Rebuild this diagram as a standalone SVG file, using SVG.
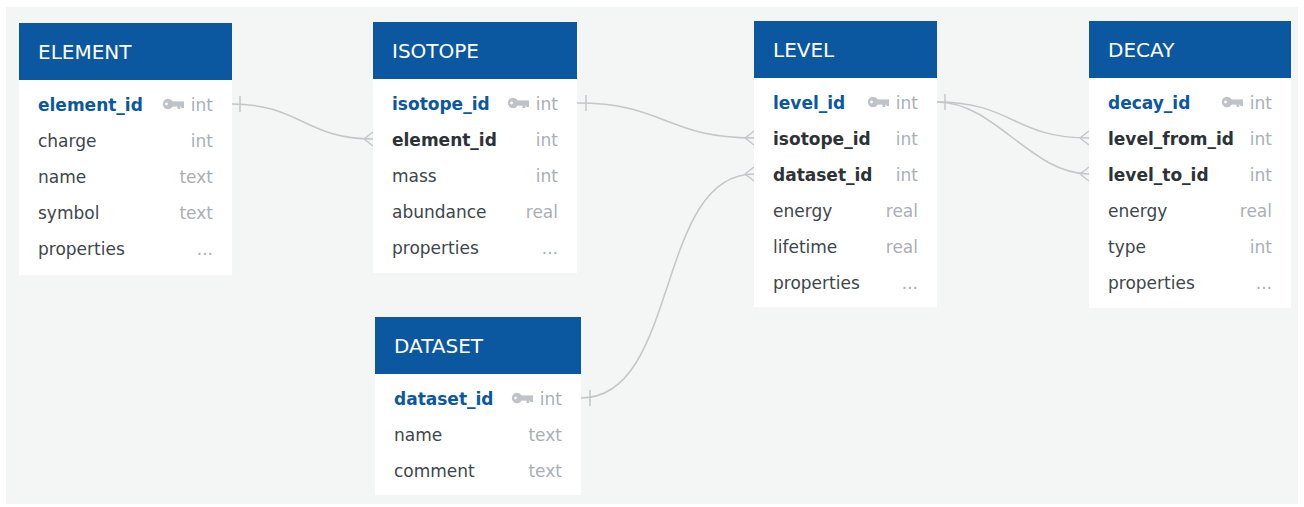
<svg xmlns="http://www.w3.org/2000/svg" xmlns:xlink="http://www.w3.org/1999/xlink" width="1304" height="507" viewBox="0 0 1304 507">
  <style>
    .canvas { fill: #f4f5f5; }
    .body { fill: #ffffff; }
    .head { fill: #0b57a0; }
    .title { font-family: "DejaVu Sans", sans-serif; font-size: 20px; fill: #ffffff; }
    .f { font-family: "DejaVu Sans", sans-serif; font-size: 17px; fill: #40454b; }
    .pk { font-weight: bold; fill: #0b57a0; }
    .fk { font-weight: bold; fill: #2d3237; }
    .t { font-family: "DejaVu Sans", sans-serif; font-size: 17px; fill: #abafb4; text-anchor: end; }
    .rel { fill: none; stroke: #c4c6c8; stroke-width: 1.5; }
    .key { fill: #bfc2c6; }
  </style>
  <defs>
    <!-- primary key glyph, drawn with its right edge at x=0 and centred on y=0 -->
    <g id="key">
      <circle class="key" cx="-16" cy="0" r="5.2"/>
      <rect class="key" x="-13" y="-2.6" width="13" height="5.2"/>
      <rect class="key" x="-6.5" y="0" width="2.8" height="5"/>
      <rect class="key" x="-2.8" y="0" width="2.8" height="4"/>
      <circle cx="-17.5" cy="0" r="1.4" fill="#ffffff"/>
    </g>
  </defs>

  <rect x="0" y="0" width="1304" height="507" fill="#ffffff"/>
  <rect class="canvas" x="6" y="7" width="1292" height="497"/>

  <!-- relationships -->
  <g id="connectors">
    <!-- element.element_id 1 - * isotope.element_id -->
    <path class="rel" d="M232,104 C300,104 305,139 373,139"/>
    <path class="rel" d="M240,96 V112"/>
    <path class="rel" d="M364,139 L373,132 M364,139 L373,146"/>
    <!-- isotope.isotope_id 1 - * level.isotope_id -->
    <path class="rel" d="M577,103 C665,103 666,138 754,138"/>
    <path class="rel" d="M586,95 V111"/>
    <path class="rel" d="M745,138 L754,131 M745,138 L754,145"/>
    <!-- dataset.dataset_id 1 - * level.dataset_id -->
    <path class="rel" d="M581,398 C680,398 655,174 754,174"/>
    <path class="rel" d="M590,390 V406"/>
    <path class="rel" d="M745,174 L754,167 M745,174 L754,181"/>
    <!-- level.level_id 1 - * decay.level_from_id / decay.level_to_id -->
    <path class="rel" d="M937,102 C1013,102 1013,138 1089,138"/>
    <path class="rel" d="M937,102 C995,102 1031,174 1089,174"/>
    <path class="rel" d="M945,94 V110"/>
    <path class="rel" d="M1080,138 L1089,131 M1080,138 L1089,145"/>
    <path class="rel" d="M1080,174 L1089,167 M1080,174 L1089,181"/>
  </g>

  <!-- ELEMENT -->
  <g id="element">
    <rect class="body" x="19" y="23" width="213" height="252"/>
    <rect class="head" x="19" y="23" width="213" height="57"/>
    <text class="title" x="38" y="59">ELEMENT</text>
    <text class="f pk" x="38" y="111">element_id</text>
    <use xlink:href="#key" x="184" y="104"/>
    <text class="t" x="213" y="111">int</text>
    <text class="f" x="38" y="147">charge</text><text class="t" x="213" y="147">int</text>
    <text class="f" x="38" y="183">name</text><text class="t" x="213" y="183">text</text>
    <text class="f" x="38" y="219">symbol</text><text class="t" x="213" y="219">text</text>
    <text class="f" x="38" y="255">properties</text><text class="t" x="213" y="255">...</text>
  </g>

  <!-- ISOTOPE -->
  <g id="isotope">
    <rect class="body" x="373" y="22" width="204" height="251"/>
    <rect class="head" x="373" y="22" width="204" height="57"/>
    <text class="title" x="392" y="58">ISOTOPE</text>
    <text class="f pk" x="392" y="110">isotope_id</text>
    <use xlink:href="#key" x="529" y="103"/>
    <text class="t" x="558" y="110">int</text>
    <text class="f fk" x="392" y="146">element_id</text><text class="t" x="558" y="146">int</text>
    <text class="f" x="392" y="182">mass</text><text class="t" x="558" y="182">int</text>
    <text class="f" x="392" y="218">abundance</text><text class="t" x="558" y="218">real</text>
    <text class="f" x="392" y="254">properties</text><text class="t" x="558" y="254">...</text>
  </g>

  <!-- DATASET -->
  <g id="dataset">
    <rect class="body" x="375" y="317" width="206" height="178"/>
    <rect class="head" x="375" y="317" width="206" height="57"/>
    <text class="title" x="394" y="353">DATASET</text>
    <text class="f pk" x="394" y="405">dataset_id</text>
    <use xlink:href="#key" x="533" y="398"/>
    <text class="t" x="562" y="405">int</text>
    <text class="f" x="394" y="441">name</text><text class="t" x="562" y="441">text</text>
    <text class="f" x="394" y="477">comment</text><text class="t" x="562" y="477">text</text>
  </g>

  <!-- LEVEL -->
  <g id="level">
    <rect class="body" x="754" y="21" width="183" height="286"/>
    <rect class="head" x="754" y="21" width="183" height="57"/>
    <text class="title" x="773" y="57">LEVEL</text>
    <text class="f pk" x="773" y="109">level_id</text>
    <use xlink:href="#key" x="889" y="102"/>
    <text class="t" x="918" y="109">int</text>
    <text class="f fk" x="773" y="145">isotope_id</text><text class="t" x="918" y="145">int</text>
    <text class="f fk" x="773" y="181">dataset_id</text><text class="t" x="918" y="181">int</text>
    <text class="f" x="773" y="217">energy</text><text class="t" x="918" y="217">real</text>
    <text class="f" x="773" y="253">lifetime</text><text class="t" x="918" y="253">real</text>
    <text class="f" x="773" y="289">properties</text><text class="t" x="918" y="289">...</text>
  </g>

  <!-- DECAY -->
  <g id="decay">
    <rect class="body" x="1089" y="21" width="202" height="287"/>
    <rect class="head" x="1089" y="21" width="202" height="57"/>
    <text class="title" x="1108" y="57">DECAY</text>
    <text class="f pk" x="1108" y="109">decay_id</text>
    <use xlink:href="#key" x="1243" y="102"/>
    <text class="t" x="1272" y="109">int</text>
    <text class="f fk" x="1108" y="145">level_from_id</text><text class="t" x="1272" y="145">int</text>
    <text class="f fk" x="1108" y="181">level_to_id</text><text class="t" x="1272" y="181">int</text>
    <text class="f" x="1108" y="217">energy</text><text class="t" x="1272" y="217">real</text>
    <text class="f" x="1108" y="253">type</text><text class="t" x="1272" y="253">int</text>
    <text class="f" x="1108" y="289">properties</text><text class="t" x="1272" y="289">...</text>
  </g>
</svg>
